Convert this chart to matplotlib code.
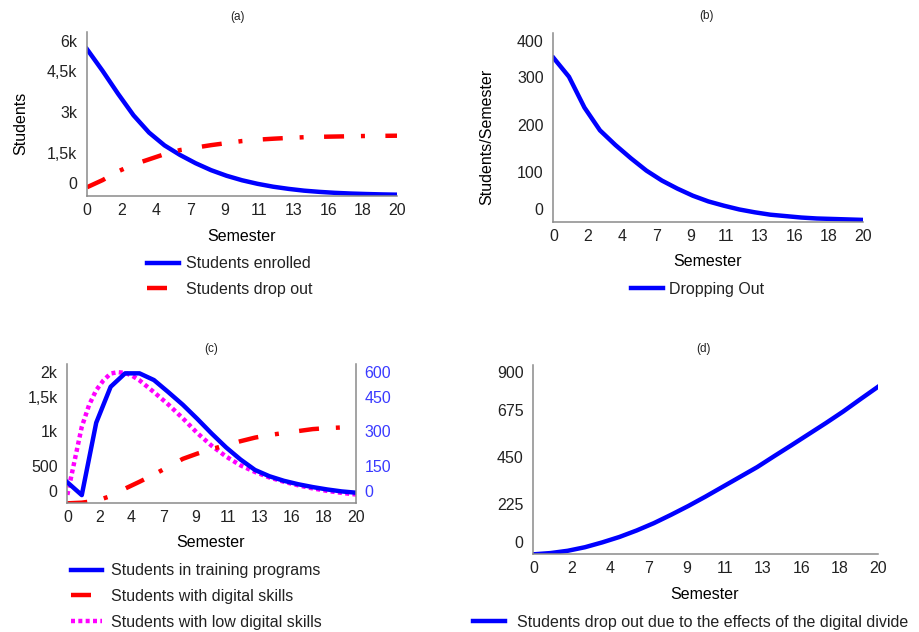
import numpy as np
import matplotlib.pyplot as plt

plt.rcParams['font.family'] = ['Liberation Sans', 'DejaVu Sans']
plt.rcParams['text.color'] = '#222222'

# simulation output, one value per semester
semesters = list(range(21))
sem_labels = ['0', '2', '4', '7', '9', '11', '13', '16', '18', '20']

enrolled = [5370, 4580, 3740, 2950, 2320, 1850, 1500, 1200, 945, 740, 575,
            445, 340, 260, 195, 150, 115, 90, 72, 58, 48]
drop_out = [320, 580, 900, 1150, 1340, 1530, 1680, 1770, 1860, 1935, 2010,
            2060, 2095, 2125, 2150, 2165, 2175, 2185, 2195, 2200, 2205]

dropping_rate = [347, 307, 242, 194, 163, 135, 109, 88, 71, 56, 44,
                 35, 27, 21, 16, 13, 10, 8, 7, 6, 5]

training = [97, 38, 372, 538, 600, 600, 569, 513, 455, 390, 322,
            258, 202, 154, 125, 104, 88, 75, 64, 55, 49]
digital = [0, 10, 40, 110, 225, 330, 440, 560, 680, 760, 830,
           890, 950, 1005, 1045, 1075, 1105, 1135, 1150, 1160, 1165]
low_sem = [0, 0.5, 1, 1.5, 2, 2.5, 3, 3.5, 4, 4.5, 5, 5.5, 6, 7, 8, 9, 10,
           11, 12, 13, 14, 15, 16, 17, 18, 19, 20]
low_digital = [130, 650, 1170, 1500, 1730, 1880, 1985, 2005, 1995, 1950, 1880,
               1790, 1700, 1510, 1300, 1075, 880, 715, 580, 480, 395, 330,
               275, 228, 190, 160, 135]

divide_drop = [0, 6, 17, 34, 57, 83, 114, 149, 189, 231, 276,
               323, 370, 417, 470, 522, 575, 628, 683, 742, 800]

BLUE = '#0000ff'
RED = '#ff0000'
MAGENTA = '#ff00ff'
dashdot = (0, (4.5, 3.8, 0.9, 4.6))
dotted = (0, (0.9, 0.75))
LW = 3.2
FS = 11.5


def style(ax, right=False):
    for s in ['top', 'right']:
        ax.spines[s].set_visible(False)
    for s in ['left', 'bottom']:
        ax.spines[s].set_color('#8a8a8a')
        ax.spines[s].set_linewidth(1.1)
    ax.set_xlim(0, 20)
    ax.set_xticks(np.linspace(0, 20, len(sem_labels)))
    ax.set_xticklabels(sem_labels)
    ax.tick_params(length=0, labelsize=FS, colors='#222222')
    ax.tick_params(axis='x', pad=5)
    ax.tick_params(axis='y', pad=7)


fig = plt.figure(figsize=(9.2, 6.32), dpi=100)

# (a) enrolled vs drop out
ax_a = fig.add_axes([0.0946, 0.6899, 0.337, 0.2595])
ax_a.plot(semesters, enrolled, color=BLUE, lw=LW, label='Students enrolled')
ax_a.plot(semesters, drop_out, color=RED, lw=LW, ls=dashdot, dash_capstyle='butt',
          label='Students drop out')
style(ax_a)
ax_a.set_ylim(0, 6000)
ax_a.set_yticks([486, 1584, 3063, 4584, 5682])
ax_a.set_yticklabels(['0', '1,5k', '3k', '4,5k', '6k'])
ax_a.set_xlabel('Semester', fontsize=FS)
ax_a.xaxis.set_label_coords(0.497, -0.2)
ax_a.set_ylabel('Students', fontsize=FS)
ax_a.yaxis.set_label_coords(-0.19, 0.445)
fig.legend(*ax_a.get_legend_handles_labels(), loc='upper left',
           bbox_to_anchor=(0.1598, 0.5947), frameon=False, fontsize=FS,
           borderpad=0, borderaxespad=0, handlelength=2.0,
           handletextpad=0.42, labelspacing=0.68)

# (b) dropping out per semester
ax_b = fig.add_axes([0.6016, 0.6483, 0.3367, 0.30])
ax_b.plot(semesters, dropping_rate, color=BLUE, lw=LW, label='Dropping Out')
style(ax_b)
ax_b.set_ylim(0, 400)
ax_b.set_yticks([28, 106, 205, 307, 382])
ax_b.set_yticklabels(['0', '100', '200', '300', '400'])
ax_b.set_xlabel('Semester', fontsize=FS)
ax_b.xaxis.set_label_coords(0.498, -0.165)
ax_b.set_ylabel('Students/Semester', fontsize=FS)
ax_b.yaxis.set_label_coords(-0.19, 0.45)
fig.legend(*ax_b.get_legend_handles_labels(), loc='upper left',
           bbox_to_anchor=(0.6855, 0.5537), frameon=False, fontsize=FS,
           borderpad=0, borderaxespad=0, handlelength=2.0,
           handletextpad=0.42)

# (c) training programs and digital skills, two scales
ax_c = fig.add_axes([0.0732, 0.2036, 0.3138, 0.2204])
ax_c2 = ax_c.twinx()
l_low, = ax_c.plot(low_sem, low_digital, color=MAGENTA, lw=LW, ls=dotted,
                   dash_capstyle='butt', label='Students with low digital skills')
l_dig, = ax_c.plot(semesters, digital, color=RED, lw=LW, ls=dashdot,
                   dash_capstyle='butt', label='Students with digital skills')
l_tr, = ax_c2.plot(semesters, training, color=BLUE, lw=LW,
                   label='Students in training programs')
style(ax_c)
ax_c.set_ylim(0, 2130)
ax_c.set_yticks([188, 571, 1107, 1623, 2006])
ax_c.set_yticklabels(['0', '500', '1k', '1,5k', '2k'])
ax_c2.set_ylim(0, 643)
ax_c2.set_yticks([57, 172, 334, 492, 605])
ax_c2.set_yticklabels(['0', '150', '300', '450', '600'])
for s in ['top', 'left', 'bottom']:
    ax_c2.spines[s].set_visible(False)
ax_c2.spines['right'].set_color('#8a8a8a')
ax_c2.spines['right'].set_linewidth(1.1)
ax_c2.tick_params(length=0, labelsize=FS, colors='#3a3aff', pad=6)
ax_c.set_xlabel('Semester', fontsize=FS)
ax_c.xaxis.set_label_coords(0.497, -0.23)
fig.legend([l_tr, l_dig, l_low],
           [l_tr.get_label(), l_dig.get_label(), l_low.get_label()],
           loc='upper left', bbox_to_anchor=(0.0768, 0.109), frameon=False,
           fontsize=FS, borderpad=0, borderaxespad=0, handlelength=1.94,
           handletextpad=0.58, labelspacing=0.68)

# (d) drop out caused by the digital divide
ax_d = fig.add_axes([0.5797, 0.1229, 0.3743, 0.2995])
ax_d.plot(semesters, divide_drop, color=BLUE, lw=LW,
          label='Students drop out due to the effects of the digital divide')
style(ax_d)
ax_d.set_ylim(0, 905)
ax_d.set_yticks([60, 241, 467, 690, 871])
ax_d.set_yticklabels(['0', '225', '450', '675', '900'])
ax_d.set_xlabel('Semester', fontsize=FS)
ax_d.xaxis.set_label_coords(0.4965, -0.172)
fig.legend(*ax_d.get_legend_handles_labels(), loc='upper left',
           bbox_to_anchor=(0.5145, 0.0268), frameon=False, fontsize=FS,
           borderpad=0, borderaxespad=0, handlelength=2.0,
           handletextpad=0.73)

for txt, x, y in [('(a)', 238, 17), ('(b)', 707, 16), ('(c)', 211, 349), ('(d)', 704, 349)]:
    fig.text(x / 920, 1 - y / 632, txt, ha='center', va='center', fontsize=8.5)

fig.savefig('out.png', dpi=100)
